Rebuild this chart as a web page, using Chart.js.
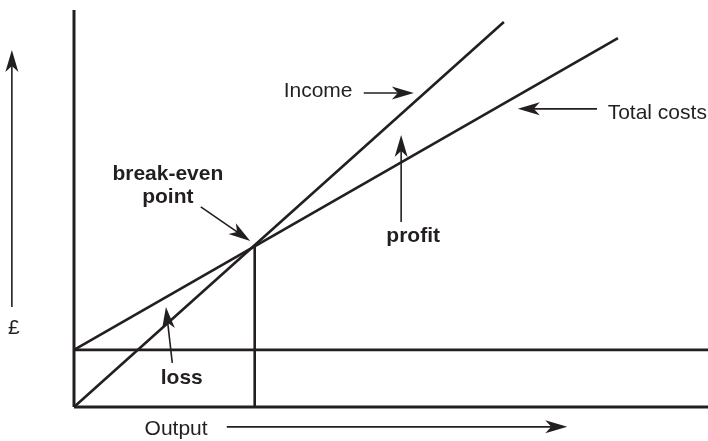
<!DOCTYPE html>
<html>
<head>
<meta charset="utf-8">
<script src="https://cdn.jsdelivr.net/npm/chart.js@4"></script>
<style>
  html, body { margin: 0; padding: 0; background: #fff; }
  #wrap { width: 708px; height: 441px; }
</style>
</head>
<body>
<div id="wrap"><canvas id="beChart"></canvas></div>
<script>
// break-even diagram, values in arbitrary units (output 0-100, £ 0-100)
var outputRange = [0, 100];
var poundRange = [0, 100];

var incomeOutput = [0, 67.8];
var incomeValue = [0, 97.0];

var costOutput = [0, 85.8];
var costValue = [14.4, 92.9];

var fixedOutput = [0, 100];
var fixedValue = [14.4, 14.4];

var breakEvenOutput = [28.5, 28.5];
var breakEvenValue = [0, 40.6];

// annotation arrows: [fromX, fromY, toX, toY]
var arrows = [
    [45.7, 79.1, 53.6, 79.1],   // Income
    [82.5, 75.1, 70.0, 75.1],   // Total costs
    [51.6, 46.6, 51.6, 68.5],   // profit
    [20.0, 50.4, 27.8, 41.8],   // break-even point
    [15.5, 11.1, 14.5, 25.2],   // loss
    [-9.8, 25.2, -9.8, 89.9],   // £ axis arrow
    [24.1, -5.0, 77.8, -5.0]    // Output axis arrow
];

// annotation labels: [text, x, y, bold]
var labels = [
    ['Income', 38.5, 79.6, false],
    ['Total costs', 92.0, 74.0, false],
    ['profit', 53.5, 43.1, true],
    ['break-even', 14.8, 58.7, true],
    ['point', 14.8, 52.9, true],
    ['loss', 17.0, 7.3, true],
    ['£', -9.5, 19.9, false],
    ['Output', 16.1, -5.5, false]
];

function toPoints(xs, ys) {
    return xs.map(function (x, i) { return { x: x, y: ys[i] }; });
}

var ink = '#231f20';

function lineSet(xs, ys, width) {
    return {
        data: toPoints(xs, ys),
        showLine: true,
        borderColor: ink,
        borderWidth: width,
        pointRadius: 0,
        fill: false,
        clip: false
    };
}

var annotate = {
    id: 'annotate',
    afterDatasetsDraw: function (chart) {
        var ctx = chart.ctx;
        var sx = chart.scales.x, sy = chart.scales.y;
        ctx.save();
        ctx.strokeStyle = ink;
        ctx.fillStyle = ink;
        arrows.forEach(function (a) {
            var x1 = sx.getPixelForValue(a[0]), y1 = sy.getPixelForValue(a[1]);
            var x2 = sx.getPixelForValue(a[2]), y2 = sy.getPixelForValue(a[3]);
            var ang = Math.atan2(y2 - y1, x2 - x1);
            var len = 22, half = 6.5, notch = 16;
            ctx.lineWidth = 1.6;
            ctx.beginPath();
            ctx.moveTo(x1, y1);
            ctx.lineTo(x2 - Math.cos(ang) * notch, y2 - Math.sin(ang) * notch);
            ctx.stroke();
            ctx.beginPath();
            ctx.moveTo(x2, y2);
            ctx.lineTo(x2 - Math.cos(ang) * len - Math.sin(ang) * half, y2 - Math.sin(ang) * len + Math.cos(ang) * half);
            ctx.lineTo(x2 - Math.cos(ang) * notch, y2 - Math.sin(ang) * notch);
            ctx.lineTo(x2 - Math.cos(ang) * len + Math.sin(ang) * half, y2 - Math.sin(ang) * len - Math.cos(ang) * half);
            ctx.closePath();
            ctx.fill();
        });
        ctx.textAlign = 'center';
        ctx.textBaseline = 'middle';
        labels.forEach(function (l) {
            ctx.font = (l[3] ? 'bold ' : '') + '21px "Liberation Sans", Arial, sans-serif';
            ctx.fillText(l[0], sx.getPixelForValue(l[1]), sy.getPixelForValue(l[2]));
        });
        ctx.restore();
    }
};

var ctx = document.getElementById('beChart').getContext('2d');
var chart = new Chart(ctx, {
    type: 'scatter',
    data: {
        datasets: [
            lineSet([0, 0], [0, 100], 3),          // £ axis
            lineSet([0, 100], [0, 0], 3),          // output axis
            lineSet(incomeOutput, incomeValue, 2.6),
            lineSet(costOutput, costValue, 2.6),
            lineSet(fixedOutput, fixedValue, 2.6),
            lineSet(breakEvenOutput, breakEvenValue, 2.6)
        ]
    },
    options: {
        responsive: true,
        maintainAspectRatio: false,
        animation: false,
        layout: { padding: { left: 74, top: 10, right: 0, bottom: 34 } },
        plugins: {
            legend: { display: false },
            tooltip: { enabled: false }
        },
        scales: {
            x: { type: 'linear', min: outputRange[0], max: outputRange[1], display: false },
            y: { type: 'linear', min: poundRange[0], max: poundRange[1], display: false }
        }
    },
    plugins: [annotate]
});
</script>
</body>
</html>
